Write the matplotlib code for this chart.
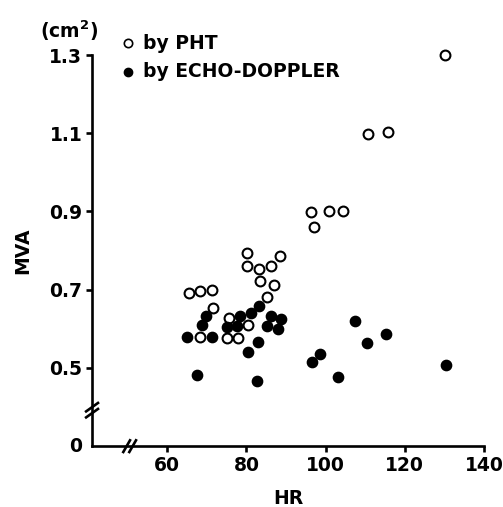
import matplotlib
matplotlib.use("Agg")
import matplotlib.pyplot as plt

# Data
pht_hr = [130.2, 110.8, 115.8, 96.4, 100.9, 104.4, 97.0,
          80.1, 88.5, 80.1, 83.3, 86.3, 83.5, 87.0, 85.2,
          65.4, 68.3, 71.3, 71.5, 75.7, 80.5, 68.2, 75.1, 78.0]
pht_mva = [1.300, 1.098, 1.103, 0.898, 0.901, 0.900, 0.860,
           0.795, 0.785, 0.761, 0.754, 0.761, 0.721, 0.711, 0.682,
           0.691, 0.697, 0.700, 0.652, 0.628, 0.611, 0.580, 0.577, 0.577]

echo_hr = [83.2, 81.2, 78.4, 69.8, 68.7, 75.1, 77.6, 86.2, 88.7, 85.3, 87.9,
           65.1, 71.3, 82.9, 80.4, 67.5, 82.7, 98.6, 96.6,
           107.5, 110.4, 115.3, 103.2, 130.5]
echo_mva = [0.659, 0.640, 0.633, 0.633, 0.610, 0.604, 0.607, 0.633, 0.626, 0.606, 0.600,
            0.580, 0.580, 0.566, 0.542, 0.482, 0.467, 0.535, 0.514,
            0.619, 0.565, 0.587, 0.478, 0.508]

x_ticks = [60, 80, 100, 120, 140]
x_tick_labels = ["60", "80", "100", "120", "140"]
y_ticks = [0.5, 0.7, 0.9, 1.1, 1.3]
y_tick_labels = ["0.5", "0.7", "0.9", "1.1", "1.3"]
y_break_origin = 0.30   # position where the broken axis shows "0"
x_origin = 41

plt.rcParams['font.family'] = ['DejaVu Sans']
plt.rcParams['font.weight'] = 'bold'

fig = plt.figure(figsize=(5.03, 5.07), dpi=100)
ax = fig.add_axes([0.183, 0.120, 0.779, 0.7715])

ax.scatter(pht_hr, pht_mva, s=50, facecolors='white', edgecolors='black',
           linewidths=1.5, zorder=3, clip_on=False)
ax.scatter(echo_hr, echo_mva, s=55, facecolors='black', edgecolors='black',
           linewidths=1.0, zorder=3, clip_on=False)

ax.set_xlim(x_origin, 140)
ax.set_ylim(y_break_origin, 1.3)

ax.set_xticks(x_ticks)
ax.set_xticklabels(x_tick_labels)
ax.set_yticks(y_ticks)
ax.set_yticklabels(y_tick_labels)

for s in ['top', 'right']:
    ax.spines[s].set_visible(False)
for s in ['left', 'bottom']:
    ax.spines[s].set_linewidth(1.9)

ax.tick_params(axis='both', width=1.9, length=4, direction='out',
               labelsize=13.5, pad=3)
for lab in ax.get_xticklabels() + ax.get_yticklabels():
    lab.set_fontweight('bold')

# "0" label at the origin
ax.text(-0.025, 0.0, "0", transform=ax.transAxes, ha='right', va='center',
        fontsize=13.5, fontweight='bold')

px = 1.0 / 392.0
xb = (50.5 - x_origin) / (140 - x_origin)
yb = (0.392 - y_break_origin) / (1.3 - y_break_origin)
# y-axis break "//"
for off in (-3 * px, 3 * px):
    ax.plot([-7 * px, 7 * px], [yb + off - 5 * px, yb + off + 5 * px],
            transform=ax.transAxes, color='black', lw=1.9, clip_on=False,
            solid_capstyle='butt')
# x-axis break "//"
for off in (-3 * px, 3 * px):
    ax.plot([xb + off - 4 * px, xb + off + 4 * px], [-7 * px, 7 * px],
            transform=ax.transAxes, color='black', lw=1.9, clip_on=False,
            solid_capstyle='butt')

ax.set_xlabel("HR", fontsize=13.5, fontweight='bold', labelpad=10)
ax.set_ylabel("MVA", fontsize=13.5, fontweight='bold', labelpad=12)

fig.text(0.138, 0.94, r"(cm$^\mathbf{2}$)", ha='center', va='center',
         fontsize=13.5, fontweight='bold')

# legend
lx, ly1, ly2 = 0.255, 0.915, 0.858
fig.lines.append(plt.Line2D([lx], [ly1], marker='o', markersize=6, markerfacecolor='white',
                            markeredgecolor='black', markeredgewidth=1.2,
                            linestyle='none', transform=fig.transFigure))
fig.lines.append(plt.Line2D([lx], [ly2], marker='o', markersize=6, markerfacecolor='black',
                            markeredgecolor='black', linestyle='none',
                            transform=fig.transFigure))
fig.text(0.285, ly1, "by PHT", ha='left', va='center', fontsize=13.5, fontweight='bold')
fig.text(0.285, ly2, "by ECHO-DOPPLER", ha='left', va='center', fontsize=13.5,
         fontweight='bold')

fig.savefig("out.png", dpi=100)
